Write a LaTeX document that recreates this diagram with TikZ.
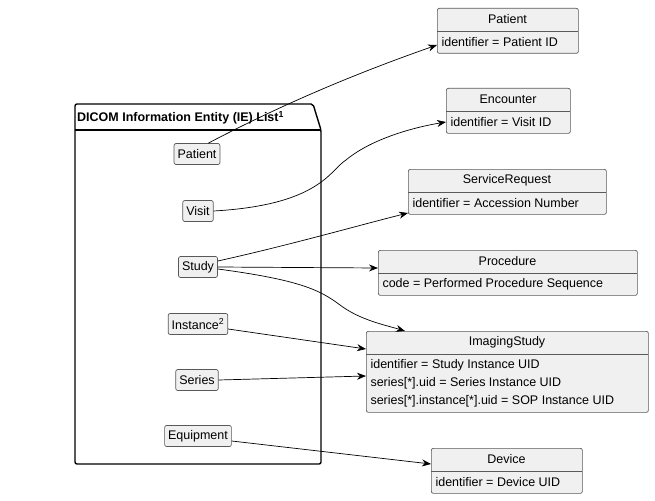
\documentclass[tikz,border=0pt]{standalone}
\usepackage{fontspec}
\setmainfont{Liberation Sans}
\usetikzlibrary{arrows.meta}
\begin{document}
\begin{tikzpicture}[x=1pt,y=-1pt,font=\fontsize{12.5}{14}\selectfont,
 ie/.style={draw=black!65,fill=black!6,rounded corners=2pt,inner xsep=3.5pt,inner ysep=0pt,minimum height=21pt,line width=0.7pt},
 cls/.style={draw=black!65,fill=black!6,rounded corners=2pt,line width=0.7pt,inner sep=0pt},
 arr/.style={-{Stealth[length=9pt,width=7pt]},line width=0.7pt}]
\useasboundingbox (0,0) rectangle (655,500);
% package
\draw[line width=1.4pt,rounded corners=2pt] (75,130) -- (75,104) -- (313,104) -- (321,130) -- (321,464) -- (75,464) -- cycle;
\draw[line width=1.4pt] (75,130) -- (321,130);
\node[anchor=west,font=\fontsize{12.5}{14}\selectfont\bfseries,inner sep=0pt] (pt) at (77,118) {DICOM Information Entity (IE) List\textsuperscript{1}};
% IE nodes
\node[ie] (pat) at (197,154) {Patient};
\node[ie] (vis) at (198,211) {Visit};
\node[ie] (stu) at (198,267) {Study};
\node[ie] (ins) at (198,324) {Instance\textsuperscript{2}};
\node[ie] (ser) at (197,380) {Series};
\node[ie] (equ) at (198,436) {Equipment};
% classes
\newcommand\myclass[6]{%
 \node[cls,anchor=north west,minimum width=#4-#2,minimum height=#5-#3] (#1) at (#2,#3) {};
 \draw[black!65,line width=0.7pt] (#2,#3+23) -- (#4,#3+23);
 \node at ({(#2+#4)/2},#3+11.5) {#6};}
\myclass{cpat}{437}{8}{578}{53}{Patient}
\node[anchor=west] at (438,42) {identifier = Patient ID};
\myclass{cenc}{446}{88}{570}{133}{Encounter}
\node[anchor=west] at (447,122) {identifier = Visit ID};
\myclass{csr}{408}{169}{606}{214}{ServiceRequest}
\node[anchor=west] at (409,203) {identifier = Accession Number};
\myclass{cpro}{378}{250}{637}{295}{Procedure}
\node[anchor=west] at (379,284) {code = Performed Procedure Sequence};
\myclass{cis}{366}{331}{648}{412}{ImagingStudy}
\node[anchor=west] at (367,365) {identifier = Study Instance UID};
\node[anchor=west] at (367,383) {series[*].uid = Series Instance UID};
\node[anchor=west] at (367,401) {series[*].instance[*].uid = SOP Instance UID};
\myclass{cdev}{431}{448}{582}{493}{Device}
\node[anchor=west] at (432,482) {identifier = Device UID};
% arrows
\draw[arr] (pat.north east) ++(-12,0) .. controls (300,95) and (380,65) .. (cpat.west |- 0,45);
\draw[arr] (vis.east) .. controls (320,205) and (330,170) .. (346,160) .. controls (370,140) and (410,128) .. (cenc.west |- 0,122);
\draw[arr] (stu.east) ++(0,-6) .. controls (290,245) and (360,225) .. (csr.west |- 0,213);
\draw[arr] (stu.east) -- (cpro.west |- 0,268);
\draw[arr] (stu.east) ++(0,2) .. controls (300,280) and (320,290) .. (340,305) .. controls (360,320) and (385,325) .. (405,331);
\draw[arr] (ins.east) ++(0,5) -- (cis.west |- 0,349);
\draw[arr] (ser.east) -- (cis.west |- 0,376);
\draw[arr] (equ.east) ++(0,5) -- (cdev.west |- 0,464);
\end{tikzpicture}
\end{document}
